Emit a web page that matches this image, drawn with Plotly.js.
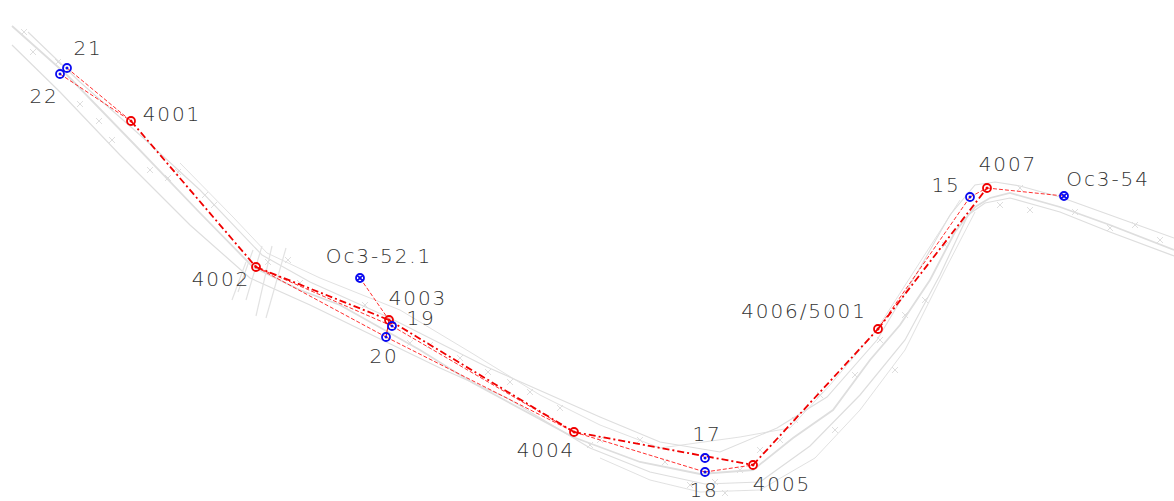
<!DOCTYPE html>
<html><head><meta charset="utf-8">
<script src="https://cdn.plot.ly/plotly-3.0.0.min.js"></script>
<style>html,body{margin:0;padding:0;background:#fff}
.textpoint text{letter-spacing:1.9px}</style></head>
<body><div id="chart" style="width:1174px;height:501px"></div>
<script>
// Survey stations
const redNames = ["4001","4002","4003","4004","4005","4006/5001","4007"];
const redX = [131,256,389,574,753,878,987];
const redY = [121,267,320,432,465,329,188];
const blueNames = ["21","22","Oc3-52.1","19","20","17","18","15","Oc3-54"];
const blueX = [67,60,360,392,386,705,705,970,1064];
const blueY = [68,74,278,326,337,458,472,197,196];
const blueSymbols = ["circle-open-dot","circle-open-dot","circle-x-open","circle-open-dot","circle-open-dot","circle-open-dot","circle-open-dot","circle-open-dot","circle-x-open"];
// Label anchors
const labelText = ["21","22","4001","4002","Oc3-52.1","4003","19","20","4004","17","18","4005","4006/5001","15","4007","Oc3-54"];
const labelX = [88,44,172,221,379,418,421,384,546,707,704,782,804,946,1008,1108];
const labelY = [50,98,116,281,258,300,320,358,452,436,492,486,313,187,166,181];
// Heavy links
const heavyX1 = [131,256,389,574,753,878];
const heavyY1 = [121,267,320,432,465,329];
const heavyX2 = [256,389,574,753,878,987];
const heavyY2 = [267,320,432,465,329,188];
// Thin links
const thinX1 = [67,60,360,256,256,386,392,574,705,970,970,987];
const thinY1 = [68,74,278,267,267,337,326,432,472,197,197,188];
const thinX2 = [131,131,389,386,392,574,574,705,753,878,987,1064];
const thinY2 = [121,121,320,337,326,432,432,472,465,329,188,196];
// Short solid link between 20 and 4003
const solidX = [386,389];
const solidY = [337,320];
// Background track alignments
const trackAX = [12,67,133,200,253,300,340,420,473,573,640,700,753,793,833,870,900,930,955,975,990,1010,1060,1110,1174];
const trackAY = [26,75,143,213,267,290,305,350,383,437,462,474,470,438,410,360,325,280,232,207,198,193,207,225,250];
const trackBX = [28,80,140,200,262,310,390,487,600,660,720,777,827,877,917,950,975,995,1020,1060,1110,1174];
const trackBY = [32,82,135,190,255,282,318,367,417,442,452,428,397,340,273,215,185,182,186,197,215,238];
const trackCX = [12,60,120,190,250,310,440,507,590,650,705,760,810,860,905,940,968,985,1010,1060,1110,1174];
const trackCY = [45,92,155,225,278,305,368,398,448,472,484,482,446,395,340,275,215,203,198,212,232,256];
const trackDX = [180,233,267,320,400,470,540,600,660,740,790,830,875,920,960];
const trackDY = [163,217,253,278,310,352,395,425,448,437,428,385,332,262,200];
const trackEX = [600,650,700,760,815,860,905,945,975];
const trackEY = [458,480,492,490,458,410,350,270,212];
// Crossing roads near 4002
const roadX1 = [272,286,262,253,246];
const roadY1 = [246,248,246,250,262];
const roadX2 = [256,266,246,238,232];
const roadY2 = [316,318,300,292,300];
// Small plotted details along the tracks
const detailX = [24,33,58,80,99,112,150,168,178,205,214,268,288,300,365,410,430,460,488,510,530,560,590,600,640,665,690,715,725,740,760,780,795,820,835,855,880,895,905,925,945,1000,1020,1030,1075,1110,1135,1160];
const detailY = [32,52,62,104,121,140,170,178,172,195,205,262,260,283,305,343,345,358,372,382,392,408,445,440,440,462,485,482,493,470,450,440,420,395,430,375,340,370,315,300,245,205,188,210,212,228,225,240];

const traces = [];
const grey = "#dedede";
[[trackAX,trackAY,1.8],[trackBX,trackBY,1.1],[trackCX,trackCY,1.2],[trackDX,trackDY,0.9],[trackEX,trackEY,0.9]].forEach(t=>{
  traces.push({x:t[0],y:t[1],mode:"lines",line:{color:grey,width:t[2]},hoverinfo:"skip"});
});
roadX1.forEach((v,i)=>traces.push({x:[v,roadX2[i]],y:[roadY1[i],roadY2[i]],mode:"lines",line:{color:"#e2e2e2",width:1.2},hoverinfo:"skip"}));
traces.push({x:detailX,y:detailY,mode:"markers",marker:{symbol:"x-thin-open",size:6,color:grey,line:{color:grey,width:1}},hoverinfo:"skip"});
thinX1.forEach((v,i)=>traces.push({x:[v,thinX2[i]],y:[thinY1[i],thinY2[i]],mode:"lines",line:{color:"#ff3030",width:1,dash:"4px,2px"},hoverinfo:"skip"}));
traces.push({x:solidX,y:solidY,mode:"lines",line:{color:"#f00000",width:1},hoverinfo:"skip"});
heavyX1.forEach((v,i)=>traces.push({x:[v,heavyX2[i]],y:[heavyY1[i],heavyY2[i]],mode:"lines",line:{color:"#f00000",width:1.8,dash:"7px,3px,2px,3px"},hoverinfo:"skip"}));
traces.push({x:redX,y:redY,text:redNames,mode:"markers",marker:{symbol:"circle-open-dot",size:8,color:"#f00000",line:{width:1.8,color:"#f00000"}}});
traces.push({x:blueX,y:blueY,text:blueNames,mode:"markers",marker:{symbol:blueSymbols,size:8,color:"#0a0af0",line:{width:1.8,color:"#0a0af0"}}});
traces.push({x:labelX,y:labelY,text:labelText,mode:"text",textposition:"middle center",
  textfont:{family:"'DejaVu Sans', sans-serif",weight:200,size:20,color:"#333333"},hoverinfo:"skip"});

Plotly.newPlot("chart",traces,{
  width:1174,height:501,showlegend:false,
  margin:{l:0,r:0,t:0,b:0},
  paper_bgcolor:"#ffffff",plot_bgcolor:"#ffffff",
  xaxis:{range:[0,1174],visible:false,fixedrange:true},
  yaxis:{range:[501,0],visible:false,fixedrange:true}
},{displayModeBar:false,staticPlot:true});
</script></body></html>
